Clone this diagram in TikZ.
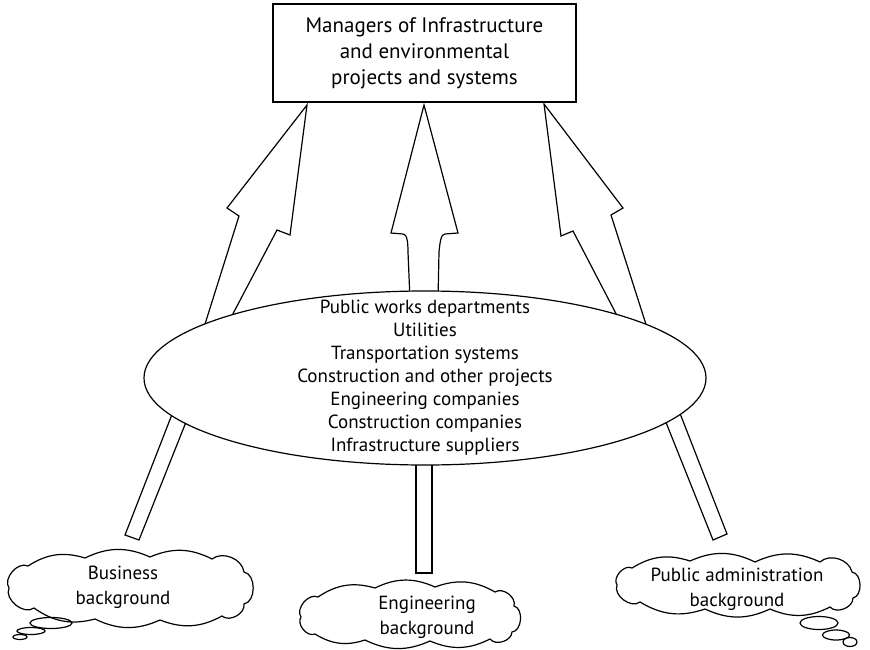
\documentclass[tikz,border=0pt]{standalone}
\usepackage{fontspec}
\setmainfont{PT Sans}
\usetikzlibrary{shapes.geometric}
\begin{document}
\begin{tikzpicture}[x=1pt,y=-1pt,line width=1.2pt,
  puffstext/.style={align=center,font=\fontsize{19}{25}\selectfont},
  blockarrow/.style={draw,line join=miter},
  flat/.style={bend left=25},
  round/.style={bend left=75}]
\useasboundingbox (0,0) rectangle (870,650);

% arrows up to the managers
\draw[blockarrow] (200,340) -- (239,216) -- (227,208) -- (307,105) -- (290,235) -- (277,230) -- (226,327);
\draw[blockarrow] (410,300) -- (408,252) .. controls (408,242) and (407,234) .. (403,234) -- (391,233) -- (424,105)
  -- (458,233) -- (445,234) .. controls (441,234) and (440,242) .. (439,252) -- (438,300);
\draw[blockarrow] (624,329) -- (573,231) -- (561,236) -- (544,104) -- (623,208) -- (611,215) -- (651,340);

% bars down to the backgrounds
\draw[blockarrow] (178,399) -- (125,535) -- (139,540) -- (192,407);
\draw[blockarrow] (416,455) -- (416,573) -- (432,573) -- (432,455);
\draw[blockarrow] (659,405) -- (713,540) -- (727,534) -- (674,398);

\node[draw,fill=white,minimum width=303pt,minimum height=98pt,align=center,
  font=\fontsize{21}{26}\selectfont] (managers) at (424.5,53)
  {Managers of Infrastructure\\and environmental\\projects and systems};

\node[draw,fill=white,ellipse,minimum width=562pt,minimum height=174pt,inner sep=0pt] (hub) at (425,378) {};
\node[align=center,font=\fontsize{19}{23}\selectfont] (hubtext) at (hub.center)
  {Public works departments\\Utilities\\Transportation systems\\Construction and other projects\\Engineering companies\\Construction companies\\Infrastructure suppliers};

% backgrounds
\draw (28,566) to[flat] (85,558) to[flat] (150,557) to[flat] (212,559) to[bend left=60] (244,572)
  to[bend left=80] (244,604) to[bend left=70] (222,616) to[flat] (160,620) to[flat] (95,619)
  to[flat] (34,608) to[round] (9,588) to[round] cycle;
\node[puffstext] (businesstext) at (123,587) {Business\\background};
\draw (51,623) ellipse (21 and 5.5);
\draw (31,631) ellipse (14 and 3.5);
\draw (20,637) ellipse (7 and 2.5);

\draw (318,597) to[flat] (375,588) to[flat] (435,587) to[flat] (495,592) to[bend left=70] (514,606)
  to[bend left=80] (512,632) to[bend left=70] (490,639) to[flat] (430,641) to[flat] (365,640)
  to[flat] (315,634) to[round] (301,617) to[round] cycle;
\node[puffstext] (engineeringtext) at (427,617) {Engineering\\background};

\draw (632,568) to[flat] (690,561) to[flat] (755,562) to[flat] (820,562) to[bend left=60] (852,572)
  to[bend left=80] (853,598) to[bend left=70] (830,607) to[flat] (770,609) to[flat] (705,609)
  to[flat] (640,602) to[round] (617,585) to[round] cycle;
\node[puffstext] (publictext) at (737,589) {Public administration\\background};
\draw (819,623) ellipse (19 and 6.5);
\draw (836,635) ellipse (13.5 and 5);
\draw (850,642) ellipse (7 and 4.5);
\end{tikzpicture}
\end{document}
